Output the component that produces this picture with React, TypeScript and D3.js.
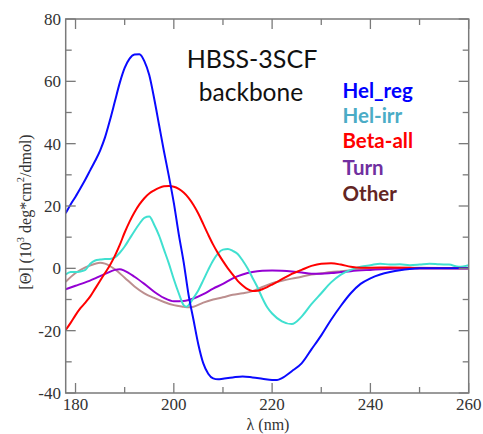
import React from "react";
import * as d3 from "d3";

const W = 483;
const H = 434;

const xTicksMajor = [180, 200, 220, 240, 260];
const yTicksMajor = [-40, -20, 0, 20, 40, 60, 80];

// [wavelength nm, value]
const helReg: [number, number][] = [
  [178, 17.7], [179, 20.5], [180, 23], [181, 25.7], [182, 28.5], [183, 31.5], [184, 34.5], [185, 37.8],
  [186, 42], [187, 47.5], [188, 53.5], [189, 59.5], [190, 64.3], [191, 67.3], [192, 68.6], [193, 68.7],
  [194, 66.5], [195, 62], [196, 54.5], [197, 46], [198, 37.5], [199, 29.5], [200, 21], [201, 11],
  [202, 2], [203, -8.5], [204, -16.5], [205, -24.5], [206, -30.5], [207, -33.8], [208, -35.3],
  [209, -35.6], [210, -35.4], [212, -35], [214, -34.7], [216, -35], [218, -35.4], [220, -35.8],
  [221, -35.8], [222, -35.2], [224, -33], [226, -30.5], [228, -26], [230, -21.5], [232, -16.5],
  [234, -12], [236, -8], [238, -5], [240, -3.2], [242, -2], [244, -1.2], [246, -0.6], [248, -0.2],
  [250, 0], [255, 0], [260, 0],
];

const helIrr: [number, number][] = [
  [178, -2], [179, -1.2], [180, -1.2], [181, -1], [182, -0.5], [183, 1.5], [184, 2.5], [185, 2.8],
  [186, 3], [187, 3], [188, 3.5], [189, 5], [190, 7], [191, 9.5], [192, 12], [193, 14.3], [194, 16.2],
  [195, 16.6], [196, 14], [197, 10.5], [198, 6], [199, 1.5], [200, -3.5], [201, -8], [202, -11.8],
  [202.6, -12.3], [203, -11.8], [204, -9.5], [205, -7], [206, -3.8], [207, -0.5], [208, 2.5],
  [209, 4.8], [210, 6], [211, 6.2], [212, 5.6], [213, 4.6], [214, 2.5], [215, 0], [216, -3],
  [217, -6], [218, -9.5], [219, -12.5], [220, -14.5], [222, -17], [224, -17.9], [226, -15.5],
  [228, -11.5], [230, -8], [232, -4.5], [234, -2], [236, -0.5], [238, 0.5], [240, 1], [242, 1.5],
  [244, 1.2], [246, 1.3], [248, 1], [250, 1.2], [252, 1.5], [254, 1.3], [256, 1.2], [258, 0.5], [260, 1],
];

const betaAll: [number, number][] = [
  [178, -19.8], [179, -17.5], [180, -15], [181, -12.8], [182, -11], [183, -9], [184, -6.5], [185, -4],
  [186, -1.5], [187, 1], [188, 4], [189, 7.5], [190, 11.5], [191, 15], [192, 18], [193, 20.5],
  [194, 22.5], [195, 24], [196, 25], [197, 25.8], [198, 26.3], [199, 26.4], [200, 26.2], [201, 25.5],
  [202, 24.3], [203, 22.6], [204, 20.3], [205, 17.5], [206, 14.2], [207, 10.8], [208, 7.6], [209, 4.8],
  [210, 2.3], [211, 0], [212, -2], [213, -4], [214, -5.5], [215, -6.7], [216, -7.3], [217, -7.2],
  [218, -6.7], [219, -6], [220, -5.2], [222, -3.5], [224, -1.8], [226, -0.5], [228, 0.8], [230, 1.5],
  [232, 1.6], [234, 1.2], [236, 0.5], [238, 0.2], [240, 0.2], [244, 0.3], [248, 0.2], [250, 0], [260, 0],
];

const turn: [number, number][] = [
  [178, -6.7], [180, -5.6], [182, -4.5], [184, -3.2], [186, -1.8], [188, -0.5], [189, -0.3], [190, -0.8],
  [192, -2.7], [194, -5], [196, -7.5], [198, -9.5], [200, -10.6], [202, -10.5], [204, -9.7], [206, -8.3],
  [208, -6.5], [210, -5], [212, -3.2], [214, -2], [216, -1.2], [218, -0.8], [220, -0.7], [222, -0.8],
  [224, -1], [226, -1.3], [228, -1.7], [230, -1.7], [232, -1.5], [234, -1.2], [236, -0.9], [240, -0.5],
  [245, -0.1], [250, 0], [260, 0],
];

const other: [number, number][] = [
  [178, -4.3], [180, -1.5], [182, 0.3], [184, 1.5], [185, 1.8], [186, 1.5], [188, -0.3], [190, -3],
  [192, -5.8], [194, -8], [196, -9.5], [198, -10.8], [200, -11.8], [202, -12.3], [203, -12.5],
  [204, -12.3], [206, -11], [208, -10], [210, -9.3], [212, -8.5], [214, -8], [216, -7.3], [218, -6],
  [220, -4.8], [222, -4], [224, -3.3], [226, -2.7], [228, -2], [230, -1.6], [232, -1.2], [234, -0.9],
  [236, -0.6], [238, -0.3], [240, -0.1], [250, 0.2], [260, 0],
];

const seriesNames = ["Hel_reg", "Hel-irr", "Beta-all", "Turn", "Other"];
const lineColors = ["#0a0aff", "#40e0d0", "#ff0000", "#9400d3", "#bc8f8f"];
const legendColors = ["#0000ff", "#4bacc6", "#ff0000", "#7030a0", "#632523"];
const seriesData = [helReg, helIrr, betaAll, turn, other];
const drawOrder = [4, 3, 1, 2, 0];

export default function App() {
  const left = 65.7, right = 468.7, top = 19, bottom = 393;
  const x = d3.scaleLinear().domain([178, 260]).range([left, right]);
  const y = d3.scaleLinear().domain([-40, 80]).range([bottom, top]);
  const line = d3
    .line<[number, number]>()
    .x((d) => x(d[0]))
    .y((d) => y(d[1]))
    .curve(d3.curveMonotoneX);

  const xMinor = d3.range(180, 261, 10);
  const yMinor = d3.range(-40, 81, 10);
  const frame = "#7a7a7a";
  const serif = "'Liberation Serif', 'Times New Roman', serif";
  const sans = "Lato, Carlito, Calibri, 'Open Sans', sans-serif";

  return (
    <div style={{ position: "fixed", left: 0, top: 0 }}>
      <svg width={W} height={H} style={{ display: "block", background: "#fff" }}>
        <defs>
          <clipPath id="clip">
            <rect x={left} y={top} width={right - left} height={bottom - top} />
          </clipPath>
        </defs>
        <g clipPath="url(#clip)">
          {drawOrder.map((i) => (
            <path
              key={i}
              d={line(seriesData[i]) || ""}
              fill="none"
              stroke={lineColors[i]}
              strokeWidth={2}
            />
          ))}
        </g>
        {xMinor.map((v) => {
          const len = v % 20 === 0 ? 10 : 6;
          return (
            <g key={"xt" + v} stroke={frame} strokeWidth={1.3}>
              <line x1={x(v)} x2={x(v)} y1={bottom} y2={bottom - len} />
              <line x1={x(v)} x2={x(v)} y1={top} y2={top + len} />
            </g>
          );
        })}
        {yMinor.map((v) => {
          const len = v % 20 === 0 ? 10 : 6;
          return (
            <g key={"yt" + v} stroke={frame} strokeWidth={1.3}>
              <line x1={left} x2={left + len} y1={y(v)} y2={y(v)} />
              <line x1={right} x2={right - len} y1={y(v)} y2={y(v)} />
            </g>
          );
        })}
        <rect
          x={left}
          y={top}
          width={right - left}
          height={bottom - top}
          fill="none"
          stroke={frame}
          strokeWidth={1.5}
        />
        {xTicksMajor.map((v) => (
          <text
            key={"xl" + v}
            x={x(v)}
            y={410}
            textAnchor="middle"
            fontFamily={serif}
            fontSize={17}
            fill="#333"
          >
            {v}
          </text>
        ))}
        {yTicksMajor.map((v) => (
          <text
            key={"yl" + v}
            x={61}
            y={y(v) + 6}
            textAnchor="end"
            fontFamily={serif}
            fontSize={17}
            fill="#333"
          >
            {v}
          </text>
        ))}
        <text x={268} y={430} textAnchor="middle" fontFamily={serif} fontSize={16} fill="#333">
          λ (nm)
        </text>
        <text
          transform={`translate(31, 212) rotate(-90)`}
          textAnchor="middle"
          fontFamily={serif}
          fontSize={16}
          fill="#333"
        >
          [Θ] (10
          <tspan fontSize={10.5} dy={-7}>3</tspan>
          <tspan dy={7}> deg*cm</tspan>
          <tspan fontSize={10.5} dy={-7}>2</tspan>
          <tspan dy={7}>/dmol)</tspan>
        </text>
        <text x={252} y={68} textAnchor="middle" fontFamily={sans} fontSize={25} fill="#111">
          HBSS-3SCF
        </text>
        <text x={251} y={101} textAnchor="middle" fontFamily={sans} fontSize={24.5} fill="#111">
          backbone
        </text>
        {seriesNames.map((n, i) => (
          <text
            key={n}
            x={342.5}
            y={[97.7, 122.7, 148.3, 175, 201][i]}
            fontFamily={sans}
            fontWeight="bold"
            fontSize={20.5}
            fill={legendColors[i]}
          >
            {n}
          </text>
        ))}
      </svg>
    </div>
  );
}
